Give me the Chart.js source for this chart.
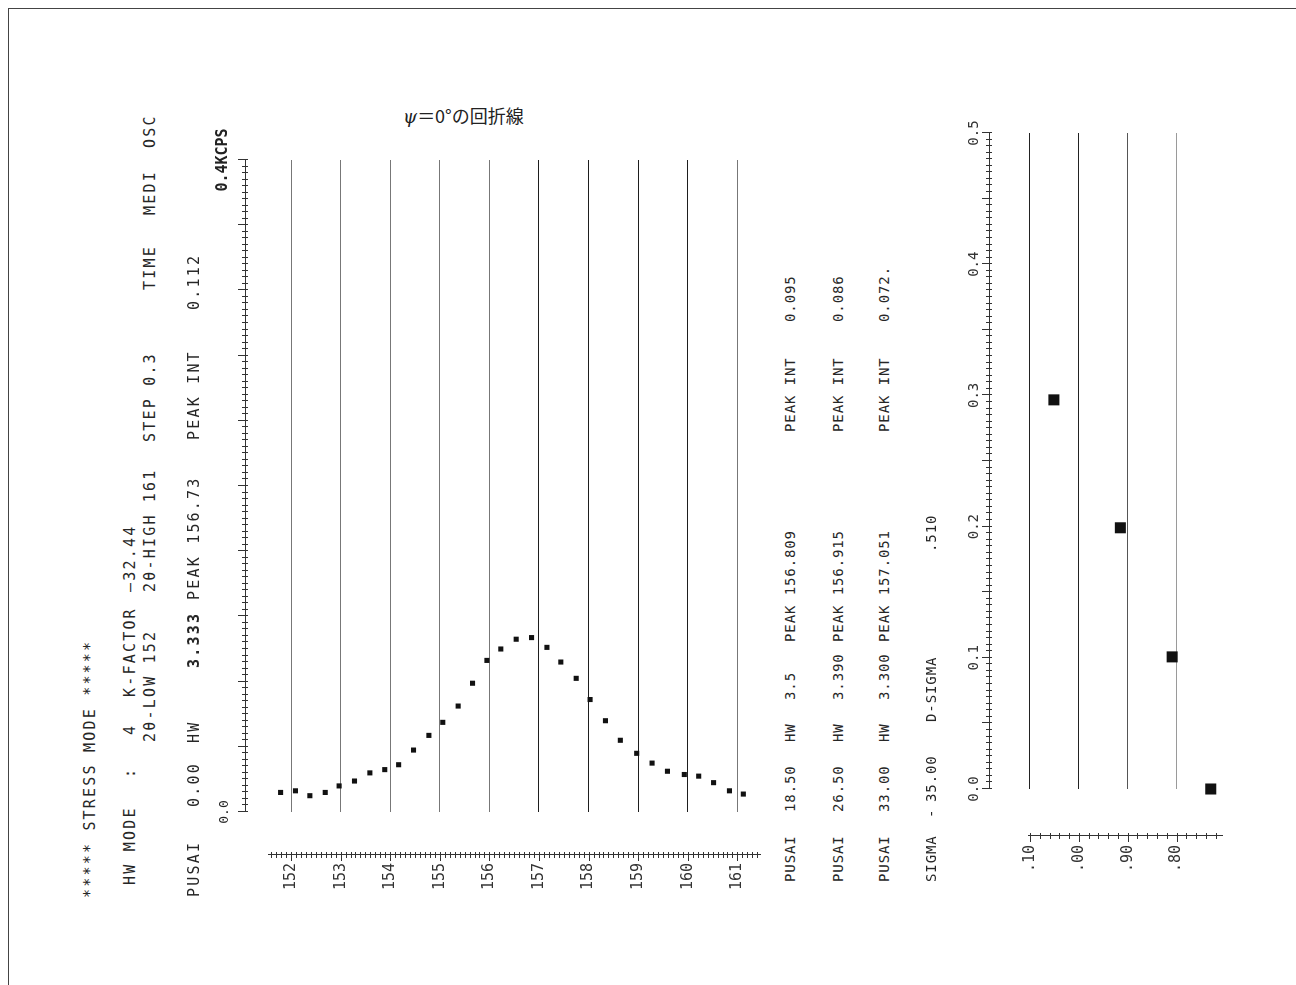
<!DOCTYPE html>
<html>
<head>
<meta charset="utf-8">
<title>ψ=0°の回折線</title>
<script src="https://cdn.jsdelivr.net/npm/chart.js@4.4.1/dist/chart.umd.min.js"></script>
<style>
  html, body { margin: 0; padding: 0; background: #fff; overflow: hidden; }
  #page { position: relative; width: 1296px; height: 985px; overflow: hidden; background: #fff; }
  #frame { position: absolute; left: 8px; top: 8px; right: -4px; bottom: -4px;
           border-top: 1px solid #444; border-left: 1px solid #444; }
  #title { position: absolute; left: 403px; top: 104px; font-family: 'Noto Sans CJK JP';
           font-size: 18px; line-height: 22px; color: #222; white-space: nowrap; }
  #title i { font-family: 'DejaVu Serif'; }
  /* the printout is turned a quarter turn: everything inside is laid out upright, then rotated */
  #rot { position: absolute; left: 0; top: 0; width: 985px; height: 1296px;
         transform-origin: 0 0; transform: translateY(985px) rotate(-90deg); }
  #rot canvas { position: absolute; }
  .t { position: absolute; font-family: 'DejaVu Sans Mono'; font-size: 15px; line-height: 15px;
       letter-spacing: 2.2px; white-space: pre; color: #262626; }
  .r { font-size: 14px; letter-spacing: 0.9px; }
  .b { font-weight: bold; }
</style>
</head>
<body>
<div id="page">
  <div id="frame"></div>
  <div id="title"><i>ψ</i>＝0°の回折線</div>
  <div id="rot">
    <canvas id="c1" width="820" height="580" style="left:40px;top:190px"></canvas>
    <canvas id="c2" width="830" height="310" style="left:60px;top:930px"></canvas>

    <!-- header block -->
    <div class="t" style="left:87px;top:83px">***** STRESS MODE *****</div>

    <div class="t" style="left:100px;top:123px">HW MODE</div>
    <div class="t" style="left:207px;top:123px">:</div>
    <div class="t" style="left:250px;top:123px">4</div>
    <div class="t" style="left:288px;top:123px">K-FACTOR</div>
    <div class="t" style="left:393px;top:123px">—32.44</div>

    <div class="t" style="left:243px;top:143px">2θ-LOW 152</div>
    <div class="t" style="left:393px;top:143px">2θ-HIGH 161</div>
    <div class="t" style="left:543px;top:143px">STEP 0.3</div>
    <div class="t" style="left:695px;top:143px">TIME</div>
    <div class="t" style="left:770px;top:143px">MEDI</div>
    <div class="t" style="left:837px;top:143px">OSC</div>

    <div class="t" style="left:88px;top:187px">PUSAI</div>
    <div class="t" style="left:178px;top:187px">0.00</div>
    <div class="t" style="left:242px;top:187px">HW</div>
    <div class="t b" style="left:317px;top:187px">3.333</div>
    <div class="t" style="left:385px;top:187px">PEAK 156.73</div>
    <div class="t" style="left:545px;top:187px">PEAK INT</div>
    <div class="t" style="left:675px;top:187px">0.112</div>

    <!-- results block -->
    <div class="t r" style="left:103px;top:783px">PUSAI</div>
    <div class="t r" style="left:173px;top:783px">18.50</div>
    <div class="t r" style="left:243px;top:783px">HW</div>
    <div class="t r" style="left:285px;top:783px">3.5</div>
    <div class="t r" style="left:343px;top:783px">PEAK 156.809</div>
    <div class="t r" style="left:553px;top:783px">PEAK INT</div>
    <div class="t r" style="left:663px;top:783px">0.095</div>

    <div class="t r" style="left:103px;top:831px">PUSAI</div>
    <div class="t r" style="left:173px;top:831px">26.50</div>
    <div class="t r" style="left:243px;top:831px">HW</div>
    <div class="t r" style="left:285px;top:831px">3.390</div>
    <div class="t r" style="left:343px;top:831px">PEAK 156.915</div>
    <div class="t r" style="left:553px;top:831px">PEAK INT</div>
    <div class="t r" style="left:663px;top:831px">0.086</div>

    <div class="t r" style="left:103px;top:877px">PUSAI</div>
    <div class="t r" style="left:173px;top:877px">33.00</div>
    <div class="t r" style="left:243px;top:877px">HW</div>
    <div class="t r" style="left:285px;top:877px">3.300</div>
    <div class="t r" style="left:343px;top:877px">PEAK 157.051</div>
    <div class="t r" style="left:553px;top:877px">PEAK INT</div>
    <div class="t r" style="left:663px;top:877px">0.072.</div>

    <div class="t r" style="left:103px;top:924px">SIGMA</div>
    <div class="t r" style="left:167px;top:924px">-</div>
    <div class="t r" style="left:183px;top:924px">35.00</div>
    <div class="t r" style="left:263px;top:924px">D-SIGMA</div>
    <div class="t r" style="left:433px;top:924px">.510</div>
  </div>
</div>

<script>
// diffraction profile at psi = 0 (2theta in degrees, intensity in KCPS)
const twoTheta = [151.79, 152.09, 152.38, 152.69, 152.97, 153.28, 153.59, 153.89,
                  154.17, 154.47, 154.78, 155.06, 155.37, 155.66, 155.95, 156.23,
                  156.54, 156.85, 157.16, 157.44, 157.75, 158.03, 158.34, 158.64,
                  158.97, 159.28, 159.59, 159.93, 160.22, 160.52, 160.84, 161.12];
const intensity = [0.012, 0.013, 0.010, 0.012, 0.016, 0.019, 0.024, 0.026,
                   0.029, 0.038, 0.047, 0.055, 0.065, 0.079, 0.093, 0.100,
                   0.106, 0.107, 0.101, 0.092, 0.082, 0.069, 0.056, 0.044,
                   0.036, 0.030, 0.025, 0.023, 0.022, 0.018, 0.013, 0.011];
const thetaTicks = [152, 153, 154, 155, 156, 157, 158, 159, 160, 161];
const intensityTicks = [0, 0.4];
const intensityLabels = ['0.0', '0.4KCPS'];

// 2theta - sin^2(psi) plot
const sin2psi = [0, 0.1007, 0.1991, 0.2966];
const peakTheta = [156.73, 156.809, 156.915, 157.051];
const sinTicks = [0, 0.1, 0.2, 0.3, 0.4, 0.5];
const sinLabels = ['0.0', '0.1', '0.2', '0.3', '0.4', '0.5'];
const peakTicks = [156.8, 156.9, 157.0, 157.1];
const peakLabels = ['.80', '.90', '.00', '.10'];

const MONO = 'DejaVu Sans Mono';
Chart.defaults.font.family = MONO;
Chart.defaults.color = '#333';

const near = (a, b) => Math.abs(a - b) < 1e-6;
const labelFrom = (vals, labels) => v => {
  const i = vals.findIndex(t => near(t, v));
  return i < 0 ? '' : labels[i];
};
// force box sizes so the plot areas land where the printout has them
const fix = (w, h) => s => {
  if (w) s.width = w;
  if (h) s.height = h;
  s.paddingLeft = s.paddingRight = s.paddingTop = s.paddingBottom = 0;
};
const blank = extra => Object.assign({
  type: 'linear', ticks: { display: false }, grid: { display: false }, border: { display: false }
}, extra);

// plotter style "+" tick marks across the axis line
const crossTicks = {
  id: 'crossTicks',
  afterDraw(chart, args, opts) {
    const ctx = chart.ctx;
    ctx.save();
    ctx.strokeStyle = '#333';
    ctx.lineWidth = 1;
    for (const a of opts.axes) {
      const s = chart.scales[a.id];
      ctx.beginPath();
      s.ticks.forEach(t => {
        const p = Math.round(s.getPixelForValue(t.value)) + 0.5;
        const r = t.value / a.major;
        const out = Math.abs(r - Math.round(r)) < 1e-6 ? a.outMajor : a.out;
        if (s.isHorizontal()) {
          ctx.moveTo(p, s.bottom - out);
          ctx.lineTo(p, s.bottom + a.inn);
        } else {
          ctx.moveTo(s.right - out, p);
          ctx.lineTo(s.right + a.inn, p);
        }
      });
      ctx.stroke();
    }
    ctx.restore();
  }
};

const base = {
  responsive: false, animation: false, devicePixelRatio: 1, events: []
};

// ---- diffraction line ----
new Chart(document.getElementById('c1'), {
  type: 'scatter',
  data: {
    datasets: [{
      data: twoTheta.map((t, i) => ({ x: intensity[i], y: t })),
      pointStyle: 'rect', pointRadius: 3.6, pointHoverRadius: 3.6,
      backgroundColor: '#111', borderWidth: 0, clip: false
    }]
  },
  options: Object.assign({}, base, {
    layout: { padding: { left: 40, right: 35, top: 10, bottom: 10 } },
    plugins: {
      legend: { display: false }, tooltip: { enabled: false },
      crossTicks: { axes: [
        { id: 'x2', major: 0.04, out: 3, outMajor: 7, inn: 3 },
        { id: 'y2', major: 1, out: 3, outMajor: 6, inn: 3 }
      ] }
    },
    scales: {
      x: blank({ position: 'top', min: 0, max: 0.4, weight: 0, afterFit: fix(null, 23) }),
      x2: {
        type: 'linear', position: 'top', min: 0, max: 0.4, weight: 1,
        ticks: {
          stepSize: 0.004, includeBounds: false, autoSkip: false, minRotation: 0, maxRotation: 0,
          padding: 13, color: '#222',
          font: c => (c.tick && c.tick.value > 0.3)
            ? { family: MONO, size: 15, weight: 'bold' }
            : { family: MONO, size: 13, weight: 'normal' },
          callback: labelFrom(intensityTicks, intensityLabels)
        },
        grid: { display: false, drawTicks: false },
        border: { display: true, color: '#333', width: 1 },
        afterFit: fix(null, 45)
      },
      y: {
        type: 'linear', position: 'left', min: 151.536, max: 161.456, reverse: true, weight: 0,
        ticks: { display: false, stepSize: 1, includeBounds: false },
        grid: {
          drawTicks: false, lineWidth: 1,
          color: c => (c.tick && c.tick.value > 156.5 && c.tick.value < 160.5) ? '#1e1e1e' : '#777'
        },
        border: { display: false },
        afterFit: fix(43, null)
      },
      y2: {
        type: 'linear', position: 'left', min: 151.536, max: 161.456, reverse: true, weight: 1,
        ticks: {
          stepSize: 0.1, includeBounds: false, autoSkip: false, padding: 8,
          font: { family: MONO, size: 15 },
          callback: labelFrom(thetaTicks, thetaTicks.map(String))
        },
        grid: { display: false, drawTicks: false },
        border: { display: true, color: '#333', width: 1 },
        afterFit: fix(50, null)
      }
    }
  }),
  plugins: [crossTicks]
});

// ---- peak position against sin^2 psi ----
new Chart(document.getElementById('c2'), {
  type: 'scatter',
  data: {
    datasets: [{
      data: sin2psi.map((s, i) => ({ x: s, y: peakTheta[i] })),
      pointStyle: 'rect', pointRadius: 7.8, pointHoverRadius: 7.8,
      backgroundColor: '#111', borderWidth: 0, clip: false
    }]
  },
  options: Object.assign({}, base, {
    layout: { padding: { left: 39, right: 38, top: 19, bottom: 18 } },
    plugins: {
      legend: { display: false }, tooltip: { enabled: false },
      crossTicks: { axes: [
        { id: 'x2', major: 0.05, out: 3, outMajor: 7, inn: 3 },
        { id: 'y2', major: 0.1, out: 3, outMajor: 6, inn: 3 }
      ] }
    },
    scales: {
      x: blank({ position: 'top', min: 0, max: 0.5, weight: 0, afterFit: fix(null, 39) }),
      x2: {
        type: 'linear', position: 'top', min: 0, max: 0.5, weight: 1,
        ticks: {
          stepSize: 0.005, includeBounds: false, autoSkip: false, minRotation: 0, maxRotation: 0,
          padding: 6, font: { family: MONO, size: 14 },
          callback: labelFrom(sinTicks, sinLabels)
        },
        grid: { display: false, drawTicks: false },
        border: { display: true, color: '#333', width: 1 },
        afterFit: fix(null, 40)
      },
      y: {
        type: 'linear', position: 'left', min: 156.707, max: 157.104, weight: 0,
        ticks: { display: false, stepSize: 0.1, includeBounds: false },
        grid: {
          drawTicks: false, lineWidth: 1,
          color: c => (c.tick && c.tick.value < 156.85) ? '#9a9a9a' : (c.tick && c.tick.value < 156.95 ? '#555' : '#222')
        },
        border: { display: false },
        afterFit: fix(47, null)
      },
      y2: {
        type: 'linear', position: 'left', min: 156.707, max: 157.104, weight: 1,
        ticks: {
          stepSize: 0.02, includeBounds: false, autoSkip: false, padding: 9,
          font: { family: MONO, size: 15 },
          callback: labelFrom(peakTicks, peakLabels)
        },
        grid: { display: false, drawTicks: false },
        border: { display: true, color: '#333', width: 1 },
        afterFit: fix(50, null)
      }
    }
  }),
  plugins: [crossTicks]
});
</script>
</body>
</html>
